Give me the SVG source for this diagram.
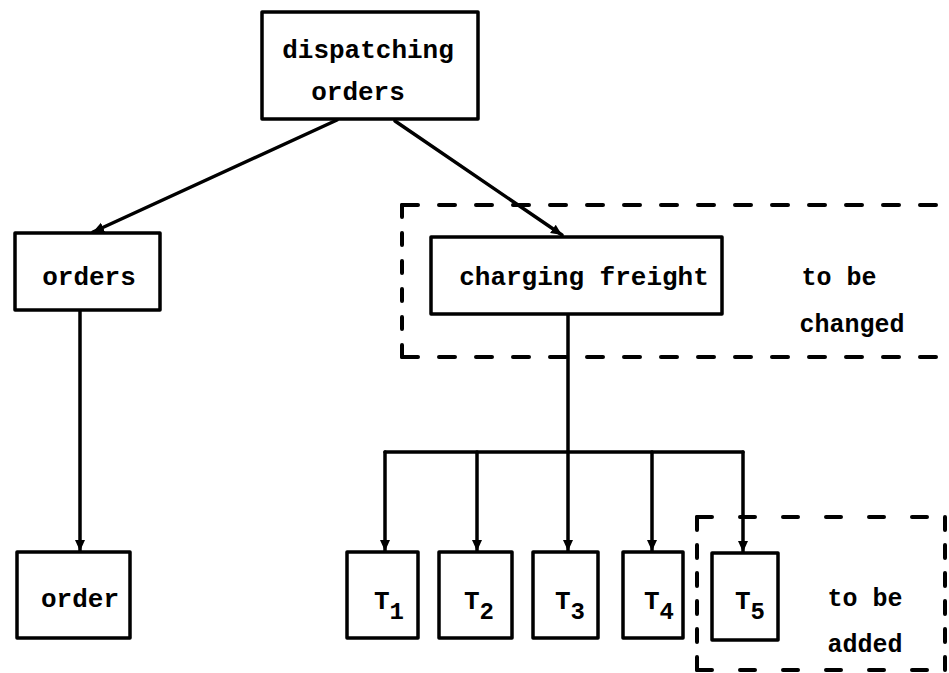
<svg xmlns="http://www.w3.org/2000/svg" width="949" height="673" viewBox="0 0 949 673">
<style>
.box{fill:#fff;stroke:#000;stroke-width:3.5;stroke-linejoin:round}
.ln{fill:none;stroke:#000;stroke-width:3.5;stroke-linecap:round}
.dh{fill:none;stroke:#000;stroke-width:4;stroke-dasharray:16 21;stroke-linecap:round}
.dv{fill:none;stroke:#000;stroke-width:4;stroke-dasharray:12 16;stroke-linecap:round}
.t{font-family:"Liberation Mono","DejaVu Sans Mono",monospace;font-weight:bold;font-size:26px;fill:#000}
.m{text-anchor:middle}
.s{font-size:25px}
.sub{font-size:24px}
</style>
<defs>
<marker id="ah" markerUnits="userSpaceOnUse" markerWidth="12" markerHeight="12" viewBox="0 0 12 12" refX="11" refY="6" orient="auto">
<path d="M0,1 L11,6 L0,11 Z" fill="#000"/>
</marker>
</defs>
<rect width="949" height="673" fill="#fff"/>

<g id="dashed-changed">
<path class="dh" d="M402,205 L949,205"/>
<path class="dh" d="M402,357 L949,357"/>
<path class="dv" d="M402,205 L402,357"/>
<text class="t s m" x="839" y="285">to be</text>
<text class="t s m" x="852" y="332">changed</text>
</g>

<g id="dashed-added">
<path class="dh" style="stroke-dasharray:15 28" d="M697,517 L945,517"/>
<path class="dh" style="stroke-dasharray:15 28" d="M697,670 L945,670"/>
<path class="dv" style="stroke-dasharray:13 15" d="M697,517 L697,670"/>
<path class="dv" style="stroke-dasharray:13 15" d="M945,517 L945,670"/>
<text class="t s m" x="865" y="606">to be</text>
<text class="t s m" x="865" y="652">added</text>
</g>

<g id="connectors">
<path class="ln" d="M337,120 L93,232" marker-end="url(#ah)"/>
<path class="ln" d="M395,121 L562,235" marker-end="url(#ah)"/>
<path class="ln" d="M80,310 L80,551" marker-end="url(#ah)"/>
<path class="ln" d="M568,314 L568,551" marker-end="url(#ah)"/>
<path class="ln" d="M385,452 L743,452"/>
<path class="ln" d="M385,452 L385,551" marker-end="url(#ah)"/>
<path class="ln" d="M477,452 L477,551" marker-end="url(#ah)"/>
<path class="ln" d="M652,452 L652,551" marker-end="url(#ah)"/>
<path class="ln" d="M743,452 L743,552" marker-end="url(#ah)"/>
</g>

<g id="dispatching-orders">
<rect class="box" x="262" y="12" width="216" height="107"/>
<text class="t m" x="368" y="58">dispatching</text>
<text class="t m" x="358" y="100">orders</text>
</g>

<g id="orders">
<rect class="box" x="15" y="233" width="145" height="77"/>
<text class="t m" x="89" y="285">orders</text>
</g>

<g id="order">
<rect class="box" x="17" y="552" width="113" height="86"/>
<text class="t m" x="80" y="607">order</text>
</g>

<g id="charging-freight">
<rect class="box" x="431" y="237" width="291" height="77"/>
<text class="t m" x="584" y="285">charging freight</text>
</g>

<g id="T1">
<rect class="box" x="347" y="552" width="71" height="86"/>
<text class="t" x="374" y="609">T<tspan class="sub" dy="10">1</tspan></text>
</g>
<g id="T2">
<rect class="box" x="439" y="552" width="73" height="86"/>
<text class="t" x="464" y="609">T<tspan class="sub" dy="10">2</tspan></text>
</g>
<g id="T3">
<rect class="box" x="533" y="552" width="65" height="86"/>
<text class="t" x="555" y="609">T<tspan class="sub" dy="10">3</tspan></text>
</g>
<g id="T4">
<rect class="box" x="623" y="552" width="60" height="86"/>
<text class="t" x="644" y="609">T<tspan class="sub" dy="10">4</tspan></text>
</g>
<g id="T5">
<rect class="box" x="712" y="553" width="66" height="87"/>
<text class="t" x="735" y="609">T<tspan class="sub" dy="10">5</tspan></text>
</g>
</svg>
